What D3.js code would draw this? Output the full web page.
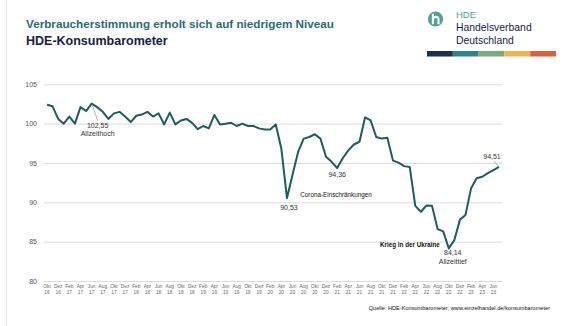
<!DOCTYPE html>
<html>
<head>
<meta charset="utf-8">
<script src="https://cdn.jsdelivr.net/npm/d3@7"></script>
<style>
    body { margin: 0; background: #fff; }
    svg { display: block; font-family: "Liberation Sans", Arial, sans-serif; }
</style>
</head>
<body>
<svg width="580" height="326"></svg>
<script>
// monthly index values, Okt 2016 .. Jul 2023
var monthNames = ["Jan", "Feb", "Mär", "Apr", "Mai", "Jun", "Jul", "Aug", "Sep", "Okt", "Nov", "Dez"];
var startMonth = 9;   // Okt
var startYear = 16;

var values = [
    102.4, 102.2, 100.6,                                                        // 2016
    100.0, 100.9, 100.0, 102.1, 101.6, 102.55, 102.1, 101.5, 100.6, 101.3, 101.5, 100.9, // 2017
    100.2, 101.0, 101.15, 101.5, 100.9, 101.3, 99.9, 101.4, 99.9, 100.4, 100.6, 100.1,   // 2018
    99.3, 99.7, 99.4, 101.1, 99.9, 100.0, 100.1, 99.7, 100.0, 99.7, 99.7, 99.4,          // 2019
    99.25, 99.25, 99.9, 96.8, 90.53, 93.5, 96.4, 98.1, 98.3, 98.65, 98.1, 95.8,          // 2020
    95.15, 94.36, 95.6, 96.6, 97.35, 97.7, 100.8, 100.4, 98.3, 98.1, 98.2, 95.3,         // 2021
    95.05, 94.6, 94.5, 89.55, 88.8, 89.6, 89.55, 86.6, 86.3, 84.14, 85.2, 87.8,          // 2022
    88.4, 91.8, 93.05, 93.25, 93.7, 94.1, 94.51                                          // 2023
];

var yTicks = [80, 85, 90, 95, 100, 105];

// annotated points: index into values, label lines
var callouts = [
    { i: 8,  lines: ["102,55", "Allzeithoch"], dx: 6,  dy: 24 },
    { i: 43, lines: ["90,53"],                 dx: 2,  dy: 12 },
    { i: 52, lines: ["94,36"],                 dx: 0,  dy: 9 },
    { i: 72, lines: ["84,14", "Allzeittief"],  dx: 4,  dy: 7 },
    { i: 81, lines: ["94,51"],                 dx: -7, dy: -8 }
];

var events = [
    { text: "Corona-Einschränkungen", x: 336, y: 197, anchor: "middle", weight: "normal" },
    { text: "Krieg in der Ukraine",   x: 380, y: 247, anchor: "start",  weight: "bold" }
];

var brandColors = ["#1c2f4e", "#2e8587", "#7aab7c", "#efb54c", "#dd5f3d"];

(function() {
    var svg = d3.select('svg');
    var lineColor = '#1d5d61';

    // month label for each index
    var labels = values.map(function(d, i) {
        var n = startMonth + i;
        return { month: monthNames[n % 12], year: String(startYear + Math.floor(n / 12)) };
    });

    var x = d3.scaleLinear().domain([0, values.length - 1]).range([47, 499]);
    var y = d3.scaleLinear().domain([80, 105]).range([281, 84.3]);

    // faint frame on the left
    svg.append('line')
        .attr('x1', 6.5).attr('x2', 6.5).attr('y1', 0).attr('y2', 326)
        .attr('stroke', '#ececec');

    // titles
    svg.append('text').attr('x', 26).attr('y', 28)
        .attr('font-size', 11.7).attr('font-weight', 'bold').attr('fill', '#2a6d71')
        .text('Verbraucherstimmung erholt sich auf niedrigem Niveau');
    svg.append('text').attr('x', 26).attr('y', 45)
        .attr('font-size', 12.5).attr('font-weight', 'bold').attr('fill', '#17223f')
        .text('HDE-Konsumbarometer');

    // logo
    var logo = svg.append('g').attr('transform', 'translate(435.5,19)');
    logo.append('circle').attr('r', 7.6).attr('fill', '#4ea392');
    logo.append('path')
        .attr('d', 'M-2.6,-5.2 L-2.6,5.2 M-2.6,0.6 C-2.6,-3 3,-3 3,0.6 L3,5.2')
        .attr('fill', 'none').attr('stroke', '#fff').attr('stroke-width', 2.1);
    svg.append('text').attr('x', 456).attr('y', 17.5)
        .attr('font-size', 9.5).attr('fill', '#4ea392').text('HDE');
    svg.append('text').attr('x', 456).attr('y', 30.5)
        .attr('font-size', 10.4).attr('fill', '#17223f').text('Handelsverband');
    svg.append('text').attr('x', 456).attr('y', 43.5)
        .attr('font-size', 10.4).attr('fill', '#17223f').text('Deutschland');

    var bar = d3.scaleBand().domain(d3.range(brandColors.length)).range([427, 556]);
    svg.selectAll('rect.brand').data(brandColors).enter().append('rect')
        .attr('class', 'brand')
        .attr('x', function(d, i) { return bar(i); })
        .attr('y', 51).attr('width', bar.bandwidth()).attr('height', 5.5)
        .attr('fill', function(d) { return d; });

    // y axis with gridlines
    var yAxis = d3.axisLeft(y).tickValues(yTicks).tickSize(-458).tickPadding(7);
    var gy = svg.append('g').attr('transform', 'translate(44,0)').call(yAxis);
    gy.select('.domain').remove();
    gy.selectAll('line').attr('stroke', '#dcdcdc');
    gy.selectAll('text').attr('font-size', 7).attr('fill', '#555')
        .attr('font-family', '"Liberation Sans", Arial, sans-serif');

    // x labels every second month
    var tickIdx = d3.range(0, values.length - 1, 2);
    var xl = svg.append('g').selectAll('text').data(tickIdx).enter().append('text')
        .attr('text-anchor', 'middle').attr('font-size', 4.8).attr('fill', '#666');
    xl.append('tspan').attr('x', function(i) { return x(i); }).attr('y', 287.5)
        .text(function(i) { return labels[i].month; });
    xl.append('tspan').attr('x', function(i) { return x(i); }).attr('y', 293.5)
        .text(function(i) { return labels[i].year; });

    // index line
    var line = d3.line()
        .x(function(d, i) { return x(i); })
        .y(function(d) { return y(d); });
    svg.append('path').datum(values)
        .attr('d', line)
        .attr('fill', 'none').attr('stroke', lineColor)
        .attr('stroke-width', 2).attr('stroke-linejoin', 'round');

    // callouts
    callouts.forEach(function(c) {
        var px = x(c.i), py = y(values[c.i]);
        var tx = px + c.dx, ty = py + c.dy;
        if (c.i === 8) {
            svg.append('line').attr('x1', px + 0.5).attr('y1', py + 1)
                .attr('x2', tx).attr('y2', ty - 7)
                .attr('stroke', '#888').attr('stroke-width', 0.6);
        }
        if (c.i === 81) {
            svg.append('line').attr('x1', px - 1).attr('y1', py - 0.5)
                .attr('x2', tx + 2).attr('y2', ty + 2)
                .attr('stroke', '#888').attr('stroke-width', 0.6);
        }
        var t = svg.append('text').attr('text-anchor', 'middle')
            .attr('font-size', 7).attr('fill', '#333');
        c.lines.forEach(function(s, k) {
            t.append('tspan').attr('x', tx).attr('y', ty + k * 8.3).text(s);
        });
    });

    // event notes
    svg.selectAll('text.event').data(events).enter().append('text')
        .attr('class', 'event')
        .attr('x', function(d) { return d.x; })
        .attr('y', function(d) { return d.y; })
        .attr('text-anchor', function(d) { return d.anchor; })
        .attr('font-weight', function(d) { return d.weight; })
        .attr('font-size', 6.3).attr('fill', '#111')
        .text(function(d) { return d.text; });

    // source
    svg.append('text').attr('x', 550).attr('y', 310)
        .attr('text-anchor', 'end').attr('font-size', 5.6).attr('fill', '#111')
        .text('Quelle: HDE-Konsumbarometer; www.einzelhandel.de/konsumbarometer');
})();
</script>
</body>
</html>
